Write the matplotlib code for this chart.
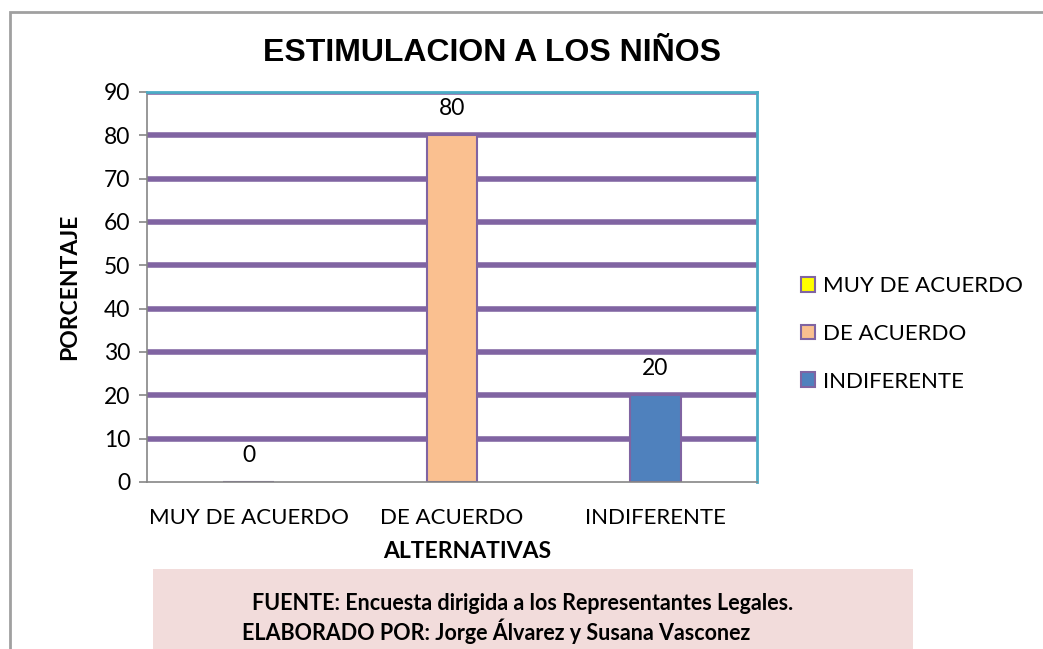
import matplotlib.pyplot as plt
from matplotlib.patches import Rectangle, Patch

categorias = ['MUY DE ACUERDO', 'DE ACUERDO', 'INDIFERENTE']
porcentajes = [0, 80, 20]
colores = ['#FFFF00', '#FAC090', '#4F81BD']
yticks = [0, 10, 20, 30, 40, 50, 60, 70, 80, 90]

W, H = 1043, 649
fig = plt.figure(figsize=(W / 100, H / 100), dpi=100)
fnt = 'Lato'

# marco exterior gris
fig.patches.append(Rectangle((10 / W, -0.1), 1.1, 1 - 12 / H + 0.1, transform=fig.transFigure,
                             fill=False, edgecolor='#A0A0A0', linewidth=2))

ax = fig.add_axes([147 / W, 1 - 482 / H, 610 / W, 390 / H])
x = range(len(categorias))
ax.bar(x, porcentajes, width=0.25, color=colores, edgecolor='#8064A2', linewidth=1.5, zorder=3)
for i, v in enumerate(porcentajes):
    ax.annotate(str(v), (i, v), xytext=(0, 19), textcoords='offset points',
                ha='center', va='center', fontsize=16.5, family=fnt)

ax.set_xlim(-0.5, 2.5)
ax.set_ylim(0, 90)
ax.set_yticks(yticks)
ax.set_xticks(list(x))
ax.set_xticklabels(categorias, fontsize=16, family=fnt)
ax.set_yticklabels([str(t) for t in yticks], fontsize=16.5, family=fnt)
ax.tick_params(axis='x', length=0, pad=19)
ax.tick_params(axis='y', length=6, width=1.2, color='#868686', pad=6)
for t in yticks[1:]:
    ax.axhline(t, color='#8064A2', linewidth=4, zorder=1)
ax.spines['left'].set_color('#868686')
ax.spines['bottom'].set_color('#868686')
ax.spines['left'].set_linewidth(1.2)
ax.spines['bottom'].set_linewidth(1.2)
ax.spines['right'].set_color('#4BACC6')
ax.spines['top'].set_color('#4BACC6')
ax.spines['right'].set_linewidth(2)
ax.spines['top'].set_linewidth(2)
for s in ax.spines.values():
    s.set_zorder(4)

fig.text(492 / W, 1 - 53 / H, 'ESTIMULACION A LOS NIÑOS', ha='center', va='center',
         fontsize=23, fontweight='bold', family='Liberation Sans')
fig.text(467 / W, 1 - 552 / H, 'ALTERNATIVAS', ha='center', va='center',
         fontsize=16.5, fontweight='bold', family=fnt)
fig.text(70 / W, 1 - 287 / H, 'PORCENTAJE', ha='center', va='center', rotation=90,
         fontsize=16.5, fontweight='bold', family=fnt)

handles = [Patch(facecolor=c, edgecolor='#8064A2', linewidth=1.5) for c in colores]
fig.legend(handles, categorias, loc='upper left', bbox_to_anchor=(781 / W, 1 - 256 / H),
           frameon=False, prop={'family': fnt, 'size': 16}, handlelength=0.65, handleheight=0.65,
           handletextpad=0.35, labelspacing=1.25)

# recuadro de fuente
fig.patches.append(Rectangle((153 / W, 0), 760 / W, 1 - 569 / H, transform=fig.transFigure,
                             facecolor='#F2DCDB', edgecolor='none'))
fig.text(252 / W, 1 - 603 / H, 'FUENTE: Encuesta dirigida a los Representantes Legales.',
         ha='left', va='center', fontsize=15.5, fontweight='bold', family=fnt)
fig.text(242 / W, 1 - 631 / H, 'ELABORADO POR: Jorge Álvarez y Susana Vasconez',
         ha='left', va='center', fontsize=15.5, fontweight='bold', family=fnt)

fig.savefig('out.png', dpi=100)
